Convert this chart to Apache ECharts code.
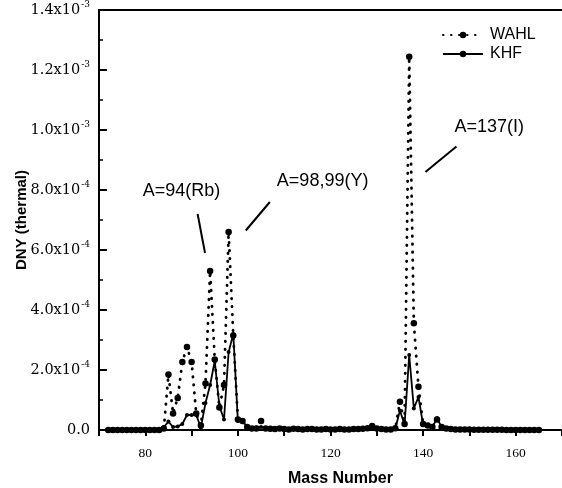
<!DOCTYPE html>
<html>
<head>
<meta charset="utf-8">
<script src="https://cdn.jsdelivr.net/npm/echarts@6/dist/echarts.min.js"></script>
<style>
  html, body { margin: 0; padding: 0; background: #fff; }
  #chart { width: 562px; height: 488px; }
</style>
</head>
<body>
<div id="chart"></div>
<script>
// Mass numbers A = 72 ... 165
const massNumbers = [
  72, 73, 74, 75, 76, 77, 78, 79, 80, 81, 82, 83, 84, 85, 86, 87, 88, 89, 90, 91,
  92, 93, 94, 95, 96, 97, 98, 99, 100, 101, 102, 103, 104, 105, 106, 107, 108, 109, 110, 111,
  112, 113, 114, 115, 116, 117, 118, 119, 120, 121, 122, 123, 124, 125, 126, 127, 128, 129, 130, 131,
  132, 133, 134, 135, 136, 137, 138, 139, 140, 141, 142, 143, 144, 145, 146, 147, 148, 149, 150, 151,
  152, 153, 154, 155, 156, 157, 158, 159, 160, 161, 162, 163, 164, 165
];

// Delayed neutron yields, in units of 1e-4
const wahlYield = [
  0, 0, 0, 0, 0, 0, 0, 0, 0, 0, 0, 0, 0.05, 1.85, 0.55, 1.07, 2.27, 2.77, 2.27, 0.55,
  0.15, 1.55, 5.3, 2.35, 0.75, 1.5, 6.6, 3.15, 0.35, 0.3, 0.1, 0.05, 0.05, 0.3, 0.05, 0.04, 0.03, 0.05, 0.03, 0.02,
  0.04, 0.03, 0.02, 0.03, 0.03, 0.02, 0.02, 0.03, 0.02, 0.02, 0.03, 0.02, 0.02, 0.03, 0.03, 0.04, 0.06, 0.13, 0.05, 0.03,
  0.02, 0.02, 0.06, 0.94, 0.2, 12.44, 3.56, 1.44, 0.2, 0.15, 0.1, 0.35, 0.1, 0.05, 0.03, 0.02, 0.02, 0.02, 0.02, 0.01,
  0.01, 0.01, 0.01, 0.01, 0.01, 0.01, 0, 0, 0, 0, 0, 0, 0, 0
];

const khfYield = [
  0, 0, 0, 0, 0, 0, 0, 0, 0, 0, 0, 0, 0.1, 0.28, 0.1, 0.12, 0.2, 0.5, 0.5, 0.5,
  0.08, 0.9, 1.5, 2.3, 0.8, 0.35, 2.6, 3.2, 0.3, 0.3, 0.1, 0.05, 0.08, 0.1, 0.05, 0.04, 0.05, 0.03, 0.04, 0.03,
  0.03, 0.04, 0.03, 0.03, 0.02, 0.03, 0.03, 0.02, 0.03, 0.02, 0.02, 0.03, 0.03, 0.02, 0.03, 0.03, 0.05, 0.1, 0.05, 0.03,
  0.02, 0.02, 0.05, 0.65, 0.17, 2.5, 0.72, 1.1, 0.17, 0.15, 0.1, 0.39, 0.1, 0.05, 0.03, 0.02, 0.02, 0.02, 0.02, 0.01,
  0.01, 0.01, 0.01, 0.01, 0.01, 0.01, 0, 0, 0, 0, 0, 0, 0, 0
];

// Axis tick labels
const xTickLabels = [80, 100, 120, 140, 160];
const yTickValues = [0, 2, 4, 6, 8, 10, 12, 14];
const yTickMantissa = ['0.0', '2.0x10', '4.0x10', '6.0x10', '8.0x10', '1.0x10', '1.2x10', '1.4x10'];
const yTickExponent = ['', '-4', '-4', '-4', '-4', '-3', '-3', '-3'];

// Peak annotations: label, label position, arrow tail, arrow head
const peakNotes = [
  { text: 'A=94(Rb)', at: [87.8, 7.95], from: [91.3, 7.2], to: [92.9, 5.9] },
  { text: 'A=98,99(Y)', at: [118.3, 8.3], from: [106.9, 7.6], to: [101.7, 6.65] },
  { text: 'A=137(I)', at: [154.3, 10.1], from: [147.2, 9.45], to: [140.5, 8.6] }
];

const toPairs = (ys) => massNumbers.map((a, i) => [a, ys[i]]);

const chart = echarts.init(document.getElementById('chart'), null, { renderer: 'canvas' });

const sans = 'Liberation Sans, Arial, sans-serif';
const serif = 'DejaVu Serif, serif';

chart.setOption({
  animation: false,
  backgroundColor: '#fff',
  grid: { left: 99, right: 0, top: 10, bottom: 58, outerBoundsMode: 'none', containLabel: false },
  legend: {
    orient: 'vertical',
    left: 437,
    top: 22,
    itemWidth: 40,
    itemHeight: 8,
    itemGap: 3,
    textStyle: { fontFamily: sans, fontSize: 16, color: '#000', padding: [0, 0, 0, 2] },
    data: ['WAHL', 'KHF']
  },
  xAxis: [{
    type: 'value',
    min: 70,
    max: 170,
    interval: 10,
    name: 'Mass Number',
    nameLocation: 'middle',
    nameGap: 41,
    nameTextStyle: { fontFamily: sans, fontSize: 16, fontWeight: 'bold', color: '#000', padding: [0, 0, 0, 20] },
    axisLine: { lineStyle: { color: '#000', width: 2 } },
    axisTick: { inside: false, length: 6, lineStyle: { color: '#000', width: 2 } },
    axisLabel: {
      margin: 16,
      fontFamily: 'Liberation Serif, Times New Roman, serif',
      fontSize: 13.5,
      color: '#000',
      formatter: (v) => (xTickLabels.includes(v) ? String(v) : '')
    },
    splitLine: { show: false }
  }, {
    type: 'value',
    position: 'top',
    min: 70,
    max: 170,
    axisLine: { show: true, lineStyle: { color: '#000', width: 2 } },
    axisTick: { show: false },
    axisLabel: { show: false },
    splitLine: { show: false }
  }],
  yAxis: {
    type: 'value',
    min: 0,
    max: 14,
    interval: 2,
    name: 'DNY (thermal)',
    nameLocation: 'middle',
    nameGap: 70,
    nameMoveOverlap: false,
    nameTextStyle: { fontFamily: sans, fontSize: 15, fontWeight: 'bold', color: '#000' },
    axisLine: { show: true, lineStyle: { color: '#000', width: 2 } },
    axisTick: { inside: true, length: 8, lineStyle: { color: '#000', width: 2 } },
    minorTick: { show: true, splitNumber: 2, length: 4, lineStyle: { color: '#000', width: 1.5 } },
    axisLabel: {
      margin: 9,
      formatter: (v) => {
        const i = yTickValues.indexOf(v);
        if (i < 0) return '';
        return yTickExponent[i] ? '{m|' + yTickMantissa[i] + '}{e|' + yTickExponent[i] + '}' : '{m|' + yTickMantissa[i] + '}';
      },
      rich: {
        m: { fontFamily: serif, fontSize: 14.5, color: '#000' },
        e: { fontFamily: serif, fontSize: 9, color: '#000', padding: [0, 0, 10, 1] }
      }
    },
    splitLine: { show: false }
  },
  series: [
    {
      name: 'WAHL',
      type: 'line',
      data: toPairs(wahlYield),
      symbol: 'circle',
      symbolSize: 6.5,
      itemStyle: { color: '#000' },
      lineStyle: { color: '#000', width: 2.8, type: [0.5, 7.5], cap: 'round' },
      z: 3,
      markPoint: {
        symbol: 'circle',
        symbolSize: 0,
        label: {
          show: true,
          position: 'inside',
          formatter: '{b}',
          fontFamily: sans,
          fontSize: 18,
          color: '#000'
        },
        data: peakNotes.map((n) => ({ name: n.text, coord: n.at }))
      },
      markLine: {
        silent: true,
        symbol: ['none', 'arrow'],
        symbolSize: [0, 9],
        label: { show: false },
        lineStyle: { color: '#000', width: 2, type: 'solid' },
        data: peakNotes.map((n) => [{ coord: n.from }, { coord: n.to }])
      }
    },
    {
      name: 'KHF',
      type: 'line',
      data: toPairs(khfYield),
      symbol: 'circle',
      symbolSize: 4,
      itemStyle: { color: '#000' },
      lineStyle: { color: '#000', width: 1.8 },
      z: 2
    }
  ]
});
</script>
</body>
</html>
